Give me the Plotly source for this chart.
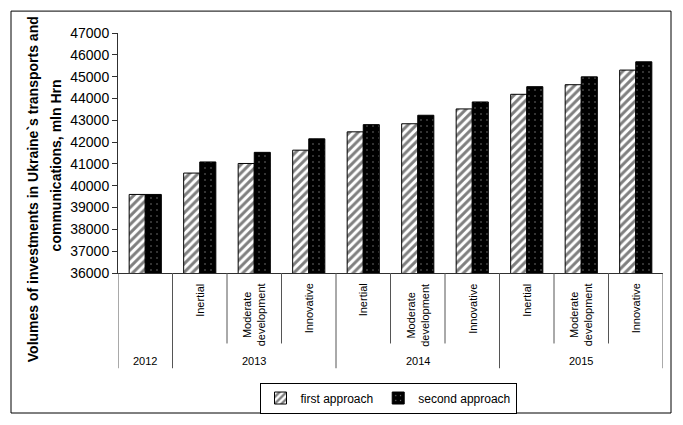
import plotly.graph_objects as go

# Forecast scenarios of investment volumes, mln Hrn
years = ["2012", "2013", "2013", "2013", "2014", "2014", "2014", "2015", "2015", "2015"]
scenarios = ["", "Inertial", "Moderate<br>development", "Innovative",
             "Inertial", "Moderate<br>development", "Innovative",
             "Inertial", "Moderate<br>development", "Innovative"]
first_approach = [39600, 40580, 41020, 41630, 42470, 42840, 43520, 44190, 44630, 45300]
second_approach = [39600, 41090, 41530, 42150, 42800, 43230, 43840, 44540, 44990, 45680]
y_ticks = list(range(36000, 47001, 1000))

FONT = "Liberation Sans, Arial, sans-serif"
W, H = 683, 425
ML, MR, MT, MB = 118, 20, 33, 140
PW, PH = W - ML - MR, H - MT - MB

n = len(years)
xpos = [i + 0.5 for i in range(n)]


def py(px):
    """pixel row -> paper y"""
    return (H - MB - px) / PH


def px_x(px):
    """pixel column -> paper x"""
    return (px - ML) / PW


fig = go.Figure()
fig.add_trace(go.Bar(
    x=xpos, y=first_approach, name="first approach",
    marker=dict(color="white", line=dict(color="black", width=1),
                pattern=dict(shape="/", fgcolor="black", bgcolor="white",
                             size=6, solidity=0.5)),
))
fig.add_trace(go.Bar(
    x=xpos, y=second_approach, name="second approach",
    marker=dict(color="black", line=dict(color="black", width=1),
                pattern=dict(shape=".", fgcolor="white", bgcolor="black",
                             size=6, solidity=0.05)),
))

shapes = []
annotations = []

# category dividers below the axis: full height at year boundaries, shorter between scenarios
for b in range(n + 1):
    full = b == 0 or b == n or years[b - 1] != years[b]
    shapes.append(dict(type="line", xref="x", yref="paper", x0=b, x1=b,
                       y0=0, y1=py(385) if full else py(359),
                       line=dict(color="#555555", width=1)))

# scenario labels (rotated)
for i, s in enumerate(scenarios):
    if s:
        annotations.append(dict(x=xpos[i], y=py(294), xref="x", yref="paper",
                                text=s, textangle=-90, showarrow=False,
                                xanchor="center", yanchor="top", align="center",
                                font=dict(family=FONT, size=11, color="black")))

# year labels centred under their groups
start = 0
for i in range(1, n + 1):
    if i == n or years[i] != years[start]:
        annotations.append(dict(x=(start + i) / 2, y=py(377), xref="x", yref="paper",
                                text=years[start], showarrow=False,
                                xanchor="center", yanchor="middle",
                                font=dict(family=FONT, size=11, color="black")))
        start = i

# y-axis title, two lines
annotations.append(dict(x=px_x(33), y=py(197), xref="paper", yref="paper",
                        text="<b>Volumes of investments in Ukraine`s transports and</b>",
                        textangle=-90, showarrow=False, xanchor="center", yanchor="middle",
                        font=dict(family=FONT, size=14, color="black")))
annotations.append(dict(x=px_x(56), y=py(172), xref="paper", yref="paper",
                        text="<b>communications, mln Hrn</b>",
                        textangle=-90, showarrow=False, xanchor="center", yanchor="middle",
                        font=dict(family=FONT, size=14, color="black")))

# outer frame
shapes.append(dict(type="rect", xref="paper", yref="paper",
                   x0=px_x(11), x1=px_x(671), y0=py(432), y1=py(10),
                   line=dict(color="black", width=1), fillcolor="rgba(0,0,0,0)"))

fig.update_layout(
    width=W, height=H,
    margin=dict(l=ML, r=MR, t=MT, b=MB),
    paper_bgcolor="white", plot_bgcolor="white",
    barmode="group", bargap=0.41, bargroupgap=0,
    font=dict(family=FONT, size=13, color="black"),
    xaxis=dict(range=[0, n], showticklabels=False, ticks="", showgrid=False,
               zeroline=False, showline=True, linecolor="#303030", linewidth=1,
               fixedrange=True),
    yaxis=dict(range=[36000, 47000], tickvals=y_ticks, ticktext=[str(v) for v in y_ticks],
               ticks="outside", ticklen=5,
               tickcolor="#303030", showgrid=False, zeroline=False, showline=True,
               linecolor="#303030", linewidth=1,
               tickfont=dict(family=FONT, size=14, color="black")),
    legend=dict(orientation="h", x=px_x(388), y=py(400), xanchor="center", yanchor="top",
                bordercolor="black", borderwidth=1, bgcolor="white",
                font=dict(family=FONT, size=12, color="black"),
                itemwidth=30, tracegroupgap=0),
    shapes=shapes,
    annotations=annotations,
)

fig.write_html("out.html")
